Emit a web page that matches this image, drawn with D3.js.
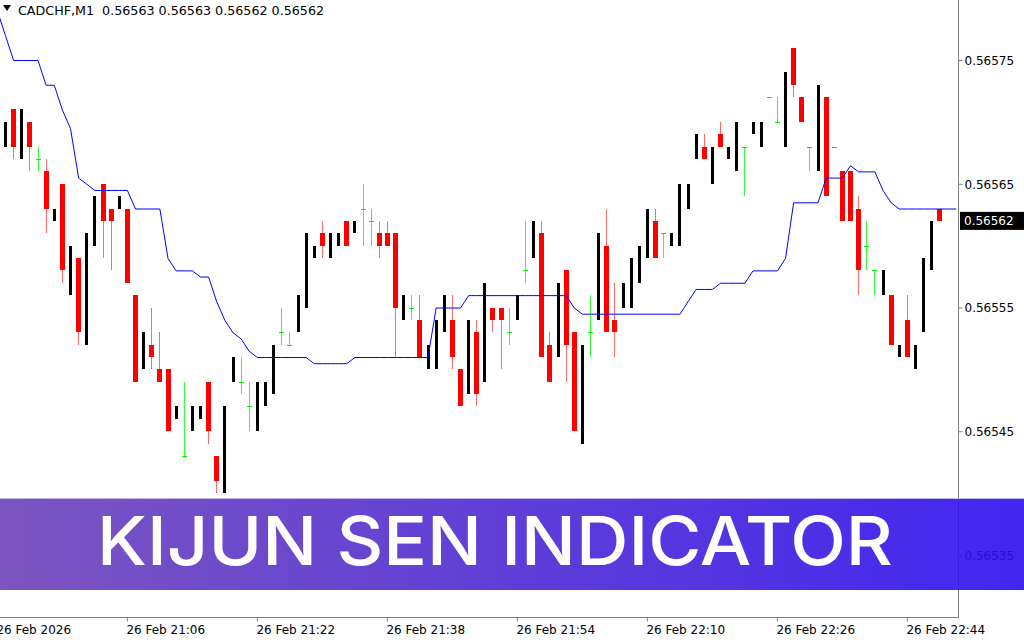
<!DOCTYPE html>
<html lang="en">
<head>
	<meta charset="utf-8" />
	<title>CADCHF,M1 | Kijun Sen Indicator</title>
	<style>
		* {margin: 0; padding: 0;}
		body {background: #fff; overflow: hidden;}
		svg {display: block;}
		.lbl {font-family: "DejaVu Sans", Verdana, sans-serif; font-size: 12px; fill: #000;}
		.banner {font-family: Inter, Lato, "Open Sans", sans-serif; font-weight: 500; font-size: 67px; fill: #fff;}
	</style>
</head>
<body>
	<div id="viz"></div>
	<script src="https://cdn.jsdelivr.net/npm/d3@7"></script>
	<script type="text/javascript">

	// candles, one per minute, first visible bar = index 0
	var opens = [0.56568,0.56571,0.56567,0.56570,0.56567,0.56566,0.56562,0.56565,0.56556,0.56559,
		0.56552,0.56560,0.56565,0.56563,0.56563,0.56563,0.56556,0.56550,0.56552,0.56550,
		0.56550,0.56546,0.56543,0.56545,0.56546,0.56549,0.56543,0.56540,0.56549,0.56549,
		0.56547,0.56545,0.56547,0.56548,0.56553,0.56552,0.56553,0.56555,0.56559,0.56561,
		0.56559,0.56560,0.56562,0.56561,0.56563,0.56562,0.56561,0.56561,0.56561,0.56554,
		0.56555,0.56554,0.56550,0.56550,0.56553,0.56554,0.56550,0.56548,0.56553,0.56549,
		0.56555,0.56555,0.56553,0.56554,0.56558,0.56559,0.56561,0.56552,0.56551,0.56558,
		0.56553,0.56544,0.56553,0.56554,0.56560,0.56554,0.56555,0.56555,0.56557,0.56559,
		0.56562,0.56561,0.56560,0.56560,0.56563,0.56567,0.56568,0.56565,0.56569,0.56567,
		0.56566,0.56568,0.56569,0.56568,0.56572,0.56570,0.56568,0.56576,0.56572,0.56568,
		0.56566,0.56572,0.56568,0.56566,0.56566,0.56563,0.56560,0.56558,0.56556,0.56556,
		0.56551,0.56554,0.56550,0.56553,0.56558,0.56563];

	var highs = [0.56570,0.56571,0.56571,0.56570,0.56568,0.56567,0.56563,0.56565,0.56560,0.56559,
		0.56561,0.56564,0.56565,0.56563,0.56564,0.56563,0.56556,0.56553,0.56555,0.56553,
		0.56550,0.56547,0.56549,0.56547,0.56547,0.56549,0.56543,0.56547,0.56551,0.56551,
		0.56549,0.56549,0.56549,0.56552,0.56555,0.56553,0.56556,0.56561,0.56560,0.56562,
		0.56561,0.56561,0.56562,0.56562,0.56565,0.56563,0.56562,0.56562,0.56561,0.56556,
		0.56556,0.56556,0.56552,0.56554,0.56556,0.56556,0.56550,0.56554,0.56554,0.56557,
		0.56555,0.56555,0.56555,0.56556,0.56562,0.56562,0.56562,0.56553,0.56557,0.56558,
		0.56553,0.56552,0.56556,0.56561,0.56563,0.56557,0.56557,0.56559,0.56560,0.56563,
		0.56563,0.56561,0.56561,0.56565,0.56565,0.56569,0.56569,0.56568,0.56570,0.56568,
		0.56570,0.56568,0.56570,0.56570,0.56572,0.56572,0.56574,0.56576,0.56572,0.56568,
		0.56573,0.56572,0.56568,0.56566,0.56566,0.56564,0.56562,0.56558,0.56558,0.56556,
		0.56552,0.56556,0.56552,0.56559,0.56562,0.56563];

	var lows = [0.56568,0.56567,0.56567,0.56566,0.56566,0.56561,0.56562,0.56557,0.56556,0.56552,
		0.56552,0.56560,0.56559,0.56558,0.56563,0.56557,0.56549,0.56550,0.56550,0.56549,
		0.56545,0.56546,0.56543,0.56545,0.56546,0.56544,0.56540,0.56540,0.56549,0.56548,
		0.56545,0.56545,0.56547,0.56548,0.56552,0.56552,0.56553,0.56555,0.56559,0.56559,
		0.56559,0.56560,0.56560,0.56561,0.56560,0.56560,0.56559,0.56560,0.56551,0.56554,
		0.56554,0.56551,0.56550,0.56550,0.56553,0.56550,0.56547,0.56548,0.56547,0.56549,
		0.56553,0.56550,0.56552,0.56554,0.56557,0.56559,0.56551,0.56549,0.56551,0.56549,
		0.56545,0.56544,0.56551,0.56554,0.56553,0.56551,0.56555,0.56555,0.56557,0.56559,
		0.56559,0.56559,0.56560,0.56560,0.56563,0.56567,0.56567,0.56565,0.56568,0.56567,
		0.56566,0.56564,0.56569,0.56568,0.56572,0.56570,0.56568,0.56572,0.56570,0.56566,
		0.56566,0.56564,0.56568,0.56562,0.56562,0.56556,0.56558,0.56556,0.56556,0.56552,
		0.56551,0.56551,0.56550,0.56553,0.56558,0.56562];

	var closes = [0.56570,0.56568,0.56571,0.56568,0.56567,0.56563,0.56563,0.56558,0.56560,0.56553,
		0.56561,0.56564,0.56562,0.56562,0.56564,0.56557,0.56549,0.56553,0.56551,0.56549,
		0.56545,0.56547,0.56543,0.56547,0.56547,0.56545,0.56541,0.56547,0.56551,0.56549,
		0.56547,0.56549,0.56549,0.56552,0.56553,0.56552,0.56556,0.56561,0.56560,0.56560,
		0.56561,0.56561,0.56560,0.56562,0.56563,0.56562,0.56560,0.56560,0.56555,0.56556,
		0.56555,0.56551,0.56552,0.56554,0.56556,0.56551,0.56547,0.56554,0.56548,0.56557,
		0.56554,0.56554,0.56553,0.56556,0.56558,0.56562,0.56551,0.56549,0.56557,0.56552,
		0.56545,0.56552,0.56553,0.56561,0.56553,0.56553,0.56557,0.56559,0.56560,0.56563,
		0.56559,0.56561,0.56561,0.56565,0.56565,0.56569,0.56567,0.56568,0.56568,0.56568,
		0.56570,0.56568,0.56570,0.56570,0.56572,0.56570,0.56574,0.56573,0.56570,0.56568,
		0.56573,0.56564,0.56568,0.56562,0.56562,0.56558,0.56560,0.56558,0.56558,0.56552,
		0.56552,0.56551,0.56552,0.56559,0.56562,0.56562];

	// kijun sen line, starts one bar before the first visible candle (index -1)
	var kijun = [0.56579,0.56577,0.56575,0.56575,0.56575,0.56575,0.56573,0.56573,0.56571,0.565695,
		0.565655,0.56565,0.565645,0.565645,0.565645,0.565645,0.565645,0.56563,0.56563,0.56563,
		0.56563,0.56559,0.56558,0.56558,0.56558,0.565575,0.565575,0.565555,0.56554,0.56553,
		0.565525,0.565515,0.56551,0.56551,0.56551,0.56551,0.56551,0.56551,0.56551,0.565505,
		0.565505,0.565505,0.565505,0.565505,0.56551,0.56551,0.56551,0.56551,0.56551,0.56551,
		0.56551,0.56551,0.56551,0.56551,0.56555,0.56555,0.56555,0.56555,0.56556,0.56556,
		0.56556,0.56556,0.56556,0.56556,0.56556,0.56556,0.56556,0.56556,0.56556,0.56556,
		0.56556,0.56555,0.565545,0.565545,0.565545,0.565545,0.565545,0.565545,0.565545,0.565545,
		0.565545,0.565545,0.565545,0.565545,0.565545,0.565555,0.565565,0.565565,0.565565,0.56557,
		0.56557,0.56557,0.56557,0.56558,0.56558,0.56558,0.56558,0.56559,0.565635,0.565635,
		0.565635,0.565635,0.565655,0.565655,0.565655,0.565665,0.56566,0.56566,0.56566,0.565645,
		0.565635,0.56563,0.56563,0.56563,0.56563,0.56563,0.56563,0.56563,0.56563];

	// axis ticks
	var priceTicks = [0.56575, 0.56565, 0.56555, 0.56545, 0.56535];
	var timeTickBars = [-1, 15, 31, 47, 63, 79, 95, 111];
	var timeTickLabels = ["26 Feb 2026", "26 Feb 21:06", "26 Feb 21:22", "26 Feb 21:38",
		"26 Feb 21:54", "26 Feb 22:10", "26 Feb 22:26", "26 Feb 22:44"];
	var symbol = "CADCHF,M1";
	var lastBar = [0.56563, 0.56563, 0.56562, 0.56562];
	var bannerText = "KIJUN SEN INDICATOR";

	var w = 1024, h = 640;
	var plotR = 958, plotB = 617;

	var svg = d3.select("#viz").append("svg").attr("width", w).attr("height", h);

	var x = d3.scaleLinear().domain([-1, 117]).range([-3.125, 955.625]);
	var y = d3.scaleLinear().domain([0.56535, 0.56575]).range([555, 60]);

	svg.append("clipPath").attr("id", "plot")
		.append("rect").attr("x", 0).attr("y", 0).attr("width", plotR).attr("height", plotB);

	var g = svg.append("g").attr("clip-path", "url(#plot)");

	var bars = opens.map(function(o, i){
		return {i: i, o: o, h: highs[i], l: lows[i], c: closes[i]};
	});
	function cx(d){ return Math.round(x(d.i)); }
	function py(v){ return Math.round(y(v)); }

	// black (up) candles: solid bar
	g.selectAll(".up").data(bars.filter(function(d){return d.c > d.o;}))
		.enter().append("rect")
		.attr("x", function(d){return cx(d) - 1;})
		.attr("y", function(d){return py(d.h);})
		.attr("width", 3)
		.attr("height", function(d){return Math.max(1, py(d.l) - py(d.h));})
		.style("fill", "#000");

	// red (down) candles: thin wick + body
	var dn = g.selectAll(".dn").data(bars.filter(function(d){return d.c < d.o;})).enter().append("g");
	dn.append("line")
		.attr("x1", function(d){return cx(d) + 0.5;})
		.attr("x2", function(d){return cx(d) + 0.5;})
		.attr("y1", function(d){return py(d.h);})
		.attr("y2", function(d){return py(d.l);})
		.style("stroke", "#ff6a6a").style("stroke-width", 1);
	dn.append("rect")
		.attr("x", function(d){return cx(d) - 2;})
		.attr("y", function(d){return py(d.o);})
		.attr("width", 5)
		.attr("height", function(d){return py(d.c) - py(d.o);})
		.style("fill", "#ff0000");

	// green doji
	var dj = g.selectAll(".dj").data(bars.filter(function(d){return d.c == d.o;})).enter().append("g");
	dj.append("line")
		.attr("x1", function(d){return cx(d) + 0.5;})
		.attr("x2", function(d){return cx(d) + 0.5;})
		.attr("y1", function(d){return py(d.h);})
		.attr("y2", function(d){return py(d.l);})
		.style("stroke", "#33ff33").style("stroke-width", 1);
	dj.append("line")
		.attr("x1", function(d){return cx(d) - 2;})
		.attr("x2", function(d){return cx(d) + 3;})
		.attr("y1", function(d){return py(d.o) + 0.5;})
		.attr("y2", function(d){return py(d.o) + 0.5;})
		.style("stroke", "#00ee00").style("stroke-width", 1);

	// kijun sen
	g.append("path")
		.datum(kijun)
		.attr("d", d3.line()
			.x(function(d, k){return x(k - 1) + 0.5;})
			.y(function(d){return y(d) + 0.5;}))
		.style("fill", "none")
		.style("stroke", "#0000ff")
		.style("stroke-width", 1);

	// axes
	var yAxis = d3.axisRight(y).tickValues(priceTicks).tickSize(4).tickSizeOuter(0)
		.tickFormat(function(d){return d.toFixed(5);});
	var ya = svg.append("g").attr("transform", "translate(" + (plotR + 0.5) + ",0)").call(yAxis);
	ya.select(".domain").remove();
	ya.selectAll("line").style("stroke", "#808080");
	ya.selectAll("text").attr("class", "lbl").attr("x", 6).attr("dy", "0.36em");

	var xAxis = d3.axisBottom(x).tickValues(timeTickBars).tickSize(4).tickSizeOuter(0)
		.tickFormat(function(d, i){return timeTickLabels[i];});
	var xa = svg.append("g").attr("transform", "translate(0," + (plotB + 0.5) + ")").call(xAxis);
	xa.select(".domain").remove();
	xa.selectAll("line").style("stroke", "#808080");
	xa.selectAll("text").attr("class", "lbl").attr("text-anchor", "start")
		.attr("x", -1).attr("y", 8).attr("dy", "0.71em");
	xa.attr("font-family", null).attr("font-size", null);
	ya.attr("font-family", null).attr("font-size", null);

	svg.append("line").attr("x1", plotR + 0.5).attr("x2", plotR + 0.5).attr("y1", 0).attr("y2", plotB + 1)
		.style("stroke", "#808080");
	svg.append("line").attr("x1", 0).attr("x2", plotR).attr("y1", plotB + 0.5).attr("y2", plotB + 0.5)
		.style("stroke", "#808080");

	// current price tag
	var last = closes[closes.length - 1];
	svg.append("rect").attr("x", plotR + 2).attr("y", y(last) - 9).attr("width", w - plotR - 2).attr("height", 18)
		.style("fill", "#000");
	svg.append("text").attr("class", "lbl").attr("x", plotR + 6).attr("y", y(last)).attr("dy", "0.36em")
		.style("fill", "#fff").text(last.toFixed(5));

	// header
	svg.append("path").attr("d", "M3,5 L11,5 L7,11 Z").style("fill", "#000");
	svg.append("text").attr("class", "lbl").attr("x", 18).attr("y", 15)
		.style("font-size", "12.7px").attr("xml:space", "preserve")
		.text(symbol + "  " + lastBar.map(function(v){return v.toFixed(5);}).join(" "));

	// banner
	var grad = svg.append("defs").append("linearGradient").attr("id", "bg");
	grad.append("stop").attr("offset", "0%").attr("stop-color", "#6c43b8");
	grad.append("stop").attr("offset", "100%").attr("stop-color", "#2d0eee");
	svg.append("rect").attr("x", 0).attr("y", 498).attr("width", w).attr("height", 92)
		.style("fill", "url(#bg)").style("opacity", 0.9);
	svg.append("line").attr("x1", 0).attr("x2", w).attr("y1", 498.5).attr("y2", 498.5)
		.style("stroke", "#c0b4ee").style("stroke-width", 1);
	var bt = svg.append("text").attr("class", "banner")
		.attr("x", 0).attr("y", 0)
		.text(bannerText);
	// stretch the title to the reference width (97 -> 893)
	var natural = bt.node().getComputedTextLength();
	bt.attr("transform", "translate(97,565) scale(" + (796 / natural) + ",1)");
	</script>
</body>
</html>
